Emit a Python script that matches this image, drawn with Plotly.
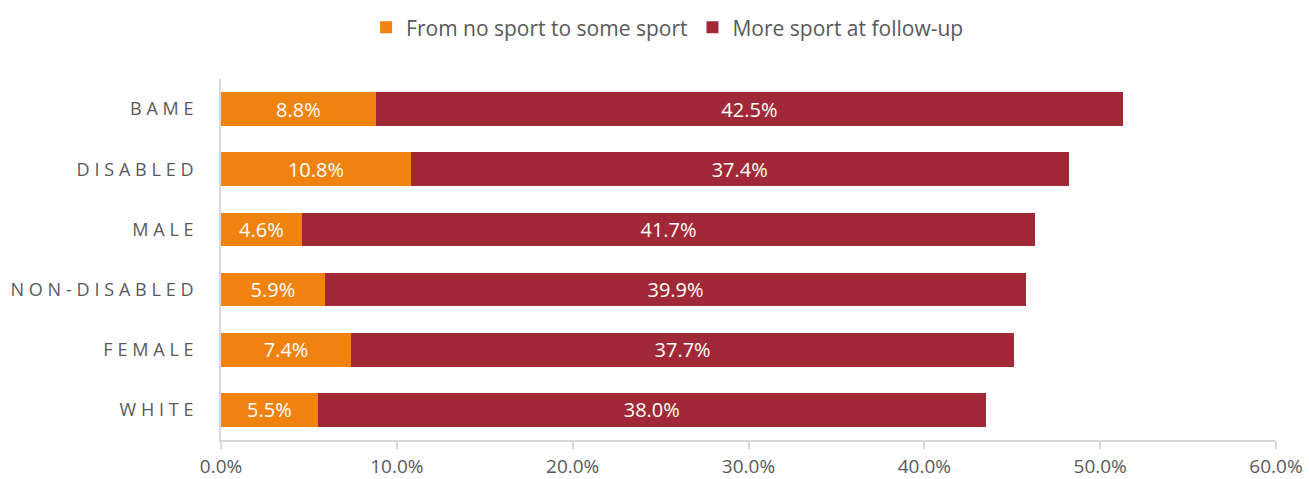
import plotly.graph_objects as go

categories = ["BAME", "DISABLED", "MALE", "NON-DISABLED", "FEMALE", "WHITE"]
no_to_some = [8.8, 10.8, 4.6, 5.9, 7.4, 5.5]
more_sport = [42.5, 37.4, 41.7, 39.9, 37.7, 38.0]
series_names = ["From no sport to some sport", "More sport at follow-up"]
colors = ["#F0820F", "#A12937"]
tick_vals = [0, 10, 20, 30, 40, 50, 60]
tick_text = ["0.0%", "10.0%", "20.0%", "30.0%", "40.0%", "50.0%", "60.0%"]

FONT = "'Open Sans', Lato, sans-serif"
fig = go.Figure()
for name, vals, col in zip(series_names, [no_to_some, more_sport], colors):
    fig.add_trace(go.Bar(
        y=categories, x=vals, orientation="h", name=name,
        marker=dict(color=col, line=dict(width=0)),
        texttemplate="%{x:.1f}%", textposition="inside", insidetextanchor="middle",
        textfont=dict(color="white", size=20, family=FONT),
        hoverinfo="skip",
    ))

fig.update_layout(
    barmode="stack", bargap=0.44,
    width=1309, height=479,
    margin=dict(l=221, r=33, t=79, b=39),
    paper_bgcolor="white", plot_bgcolor="white",
    font=dict(family=FONT, color="#595959", size=18),
    legend=dict(orientation="h", xref="container", x=0.51, xanchor="center",
                yref="container", y=0.985, yanchor="top",
                font=dict(size=21, color="#595959"), traceorder="normal"),
    uniformtext=dict(mode=False),
)
fig.update_xaxes(range=[0, 60], tickvals=tick_vals, ticktext=tick_text,
                 showgrid=False, zeroline=False, showline=True, linecolor="#D9D9D9", linewidth=2,
                 ticks="outside", ticklen=7, tickcolor="#D9D9D9", tickwidth=2,
                 tickfont=dict(size=19, color="#595959"), ticklabelstandoff=1, automargin=False)
fig.update_yaxes(categoryorder="array", categoryarray=categories, autorange="reversed",
                 showgrid=False, zeroline=False, showline=True, linecolor="#D9D9D9", linewidth=2,
                 ticks="", tickfont=dict(size=18, color="#595959"), ticklabelstandoff=17,
                 automargin=False)

post = """
document.querySelectorAll('.ytick text').forEach(function(t){t.style.letterSpacing='4.8px';});
"""
fig.write_html("out.html", post_script=post)
